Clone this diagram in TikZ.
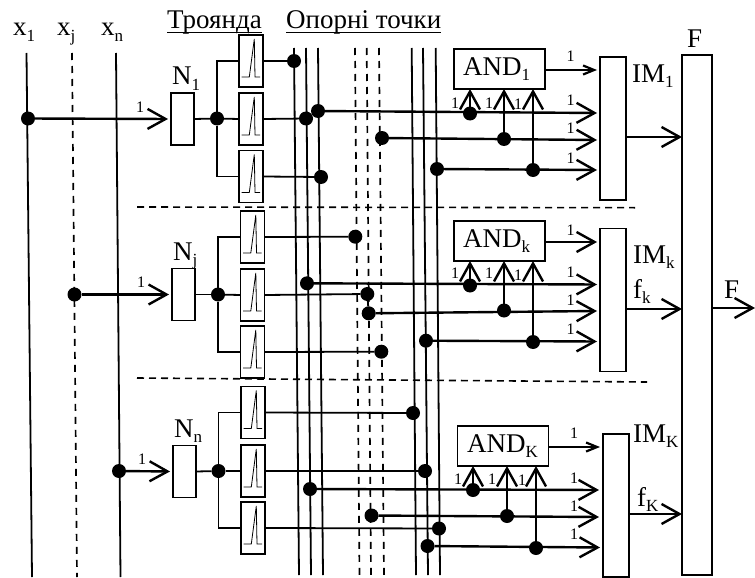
\documentclass[tikz,border=0pt]{standalone}
\usepackage{fontspec}
\setmainfont{Liberation Serif}
\usetikzlibrary{arrows.meta}
\newcommand{\sbs}[1]{\raisebox{-0.22em}{\fontsize{17}{17}\selectfont #1}}
\tikzset{
 wire/.style={line width=1.8pt,draw=black},
 thick wire/.style={line width=2.4pt,draw=black},
 dashwire/.style={line width=1.7pt,draw=black,dash pattern=on 7pt off 6pt},
 sepline/.style={line width=1.6pt,draw=black,dash pattern=on 7pt off 5pt},
 big/.style={-{Straight Barb[length=18pt,width=20pt,line width=2.4pt]}},
 small/.style={-{Straight Barb[length=11pt,width=9pt,line width=2.2pt]}},
 dot/.style={circle,fill=black,draw=none,minimum size=14pt,inner sep=0,outer sep=0},
 blk/.style={draw=black,line width=1.7pt,fill=white,inner sep=0,outer sep=0},
 nbox/.style={blk,minimum width=23pt,minimum height=52pt},
 filt/.style={blk,minimum width=24pt,minimum height=52pt,path picture={
   \draw[line width=0.8pt] ([shift={(2.7pt,10pt)}]path picture bounding box.south west)
     -- ([shift={(10.3pt,10pt)}]path picture bounding box.south west)
     -- ([shift={(15.3pt,48pt)}]path picture bounding box.south west)
     -- ([shift={(16pt,10pt)}]path picture bounding box.south west)
     -- ([shift={(21pt,10pt)}]path picture bounding box.south west);}},
 andbox/.style={blk,minimum width=91pt,minimum height=40pt},
 imbox/.style={blk,minimum width=26pt,minimum height=143pt},
 lab/.style={anchor=base west,inner sep=0,font=\fontsize{27}{27}\selectfont},
 one/.style={inner sep=0,font=\fontsize{16}{16}\selectfont},
 ul/.style={line width=1.5pt,draw=black},
}
\begin{document}
\begin{tikzpicture}[x=1pt,y=-1pt]
\useasboundingbox (0,0) rectangle (755,578);
% vertical line ends
\foreach \n/\a/\b in {x1/26.5/32,xj/72/77,xn/116/120.5}{
  \coordinate (\n t) at (\a,53); \coordinate (\n b) at (\b,577);}
\foreach \n/\a/\b in {a/294/299,b/306/311,c/318/323,g/411.7/416,h/423/428,i/435.7/440,d/355/359.5,e/366.7/371,f/379/384}{
  \coordinate (\n t) at (\a,48); \coordinate (\n b) at (\b,575);}
\draw[wire] (x1t) -- (x1b);
\draw[dashwire] (xjt) -- (xjb);
\draw[wire] (xnt) -- (xnb);
\foreach \n in {a,b,c,g,h,i}{\draw[wire] (\n t) -- (\n b);}
\foreach \n in {d,e,f}{\draw[dashwire] (\n t) -- (\n b);}
% separators
\coordinate (s1a) at (137,207); \coordinate (s1b) at (635,207.7);
\coordinate (s2a) at (137,378); \coordinate (s2b) at (647,382);
\draw[sepline] (s1a) -- (s1b);
\draw[sepline] (s2a) -- (s2b);
% F box
\node[blk,minimum width=30pt,minimum height=520pt] (F) at (697,315) {};
% ===== row 1
\node[dot] (dx1) at (28,118.5) {};
\node[dot] (br1) at (217,118.5) {};
\node[dot] (p11) at (294,61) {};
\node[dot] (p12) at (306,118.5) {};
\node[dot] (p13) at (321,177) {};
\node[dot] (q11) at (318,111) {};
\node[dot] (q12) at (382,138) {};
\node[dot] (q13) at (437,169) {};
\node[dot] (r11) at (470,113.5) {};
\node[dot] (r12) at (504,139) {};
\node[dot] (r13) at (533,170) {};
\node[nbox] (n1) at (182.5,119) {};
\node[filt] (f11) at (251,61) {};
\node[filt] (f12) at (251,119) {};
\node[filt] (f13) at (251,176.5) {};
\node[andbox] (and1) at (499.5,69) {};
\node[imbox] (im1) at (613,128.5) {};
\coordinate (i10) at (597,70);
\coordinate (i11) at (597,113);
\coordinate (i12) at (597,140);
\coordinate (i13) at (597,170);
\draw[thick wire,big,shorten >=3pt] (dx1) -- (n1.west);
\draw[wire] (n1.east) -- (br1);
\draw[wire] (br1) |- (f11.west);
\draw[wire] (br1) |- (f13.west);
\draw[wire] (br1) -- (f12.west);
\draw[wire] (f11.east) -- (p11);
\draw[wire] (f12.east) -- (p12);
\draw[wire] (f13.east) -- (p13);
\draw[thick wire,small] (and1.east |- i10) -- (i10);
\draw[thick wire,big] (q11) -- (i11);
\draw[thick wire,big] (q12) -- (i12);
\draw[thick wire,big] (q13) -- (i13);
\foreach \k in {1,2,3}{\draw[thick wire,big] (r1\k) -- (r1\k |- and1.south);}
\draw[thick wire,big] (im1.east |- 0,137) -- (F.west |- 0,137);
% ===== row 2
\node[dot] (dxj) at (74.5,294.5) {};
\node[dot] (br2) at (218,294.5) {};
\node[dot] (p21) at (355.3,236.7) {};
\node[dot] (p22) at (367.3,294) {};
\node[dot] (p23) at (381.3,351.7) {};
\node[dot] (q21) at (307,283.3) {};
\node[dot] (q22) at (368.7,313.3) {};
\node[dot] (q23) at (426,340.7) {};
\node[dot] (r21) at (470,285.5) {};
\node[dot] (r22) at (504,310.5) {};
\node[dot] (r23) at (533,342) {};
\draw[wire] (p22) -- (q22);
\node[nbox] (n2) at (183.5,294.5) {};
\node[filt] (f21) at (252.5,237) {};
\node[filt] (f22) at (252.5,295) {};
\node[filt] (f23) at (252.5,352) {};
\node[andbox] (and2) at (499.5,241) {};
\node[imbox] (im2) at (613,300) {};
\coordinate (i20) at (597,242);
\coordinate (i21) at (597,284.5);
\coordinate (i22) at (597,311);
\coordinate (i23) at (597,341.5);
\draw[thick wire,big,shorten >=3pt] (dxj) -- (n2.west);
\draw[wire] (n2.east) -- (br2);
\draw[wire] (br2) |- (f21.west);
\draw[wire] (br2) |- (f23.west);
\draw[wire] (br2) -- (f22.west);
\draw[wire] (f21.east) -- (p21);
\draw[wire] (f22.east) -- (p22);
\draw[wire] (f23.east) -- (p23);
\draw[thick wire,big] (and2.east |- i20) -- (i20);
\draw[thick wire,big] (q21) -- (i21);
\draw[thick wire,big] (q22) -- (i22);
\draw[thick wire,big] (q23) -- (i23);
\foreach \k in {1,2,3}{\draw[thick wire,big] (r2\k) -- (r2\k |- and2.south);}
\draw[thick wire,big] (im2.east |- 0,309) -- (F.west |- 0,309);
\coordinate (Fout) at (755,308);
\draw[wire,big] (F.east |- Fout) -- (Fout);
% ===== row 3
\node[dot] (dxn) at (119,471) {};
\node[dot] (br3) at (218.5,471) {};
\node[dot] (p31) at (413,413) {};
\node[dot] (p32) at (425,471) {};
\node[dot] (p33) at (439,528.5) {};
\node[dot] (q31) at (310,489) {};
\node[dot] (q32) at (371.5,515.5) {};
\node[dot] (q33) at (427.5,546) {};
\node[dot] (r31) at (473,490) {};
\node[dot] (r32) at (507,516) {};
\node[dot] (r33) at (536,548) {};
\node[nbox] (n3) at (184.5,471.5) {};
\node[filt] (f31) at (253,412.5) {};
\node[filt] (f32) at (253,471) {};
\node[filt] (f33) at (253,528) {};
\node[andbox] (and3) at (503,446) {};
\node[imbox] (im3) at (616,505.5) {};
\coordinate (i30) at (600,447);
\coordinate (i31) at (599,490);
\coordinate (i32) at (599,517);
\coordinate (i33) at (600,547.5);
\draw[thick wire,big,shorten >=3pt] (dxn) -- (n3.west);
\draw[wire] (n3.east) -- (br3);
\draw[wire] (br3) |- (f31.west);
\draw[wire] (br3) |- (f33.west);
\draw[wire] (br3) -- (f32.west);
\draw[wire] (f31.east) -- (p31);
\draw[wire] (f32.east) -- (p32);
\draw[wire] (f33.east) -- (p33);
\draw[thick wire,small] (and3.east |- i30) -- (i30);
\draw[thick wire,big] (q31) -- (i31);
\draw[thick wire,big] (q32) -- (i32);
\draw[thick wire,big] (q33) -- (i33);
\foreach \k in {1,2,3}{\draw[thick wire,big] (r3\k) -- (r3\k |- and3.south);}
\draw[thick wire,big] (im3.east |- 0,514) -- (F.west |- 0,514);
% ===== text
\node[lab] (lx1) at (13,36) {x\sbs{1}};
\node[lab] (lxj) at (57,36) {x\sbs{j}};
\node[lab] (lxn) at (101,36) {x\sbs{n}};
\node[lab] (tr) at (167,29) {Троянда};
\node[lab] (op) at (286,29) {Опорні точки};
\draw[ul] ([yshift=-3.5pt]tr.base west) -- ([yshift=-3.5pt]tr.base east);
\draw[ul] ([yshift=-3.5pt]op.base west) -- ([yshift=-3.5pt]op.base east);
\node[lab] (ln1) at (172,84.5) {N\sbs{1}};
\node[lab] (ln2) at (173,260) {N\sbs{j}};
\node[lab] (ln3) at (174,437) {N\sbs{n}};
\node[lab] (la1) at (463,75) {AND\sbs{1}};
\node[lab] (la2) at (463,247) {AND\sbs{k}};
\node[lab] (la3) at (467,452) {AND\sbs{K}};
\node[lab] (li1) at (632,82) {IM\sbs{1}};
\node[lab] (li2) at (633,263) {IM\sbs{k}};
\node[lab] (li3) at (633,442) {IM\sbs{K}};
\node[lab] (lf2) at (633,298) {f\sbs{k}};
\node[lab] (lf3) at (637,506) {f\sbs{K}};
\node[lab] (lF) at (687,48) {F};
\node[lab] (lFo) at (724,298) {F};
\foreach \i/\x/\y in {a/140/107,b/141/282,c/142/459,
  d/570.5/56,e/570.5/100,f/570.5/128,g/570.5/158,h/455/103,j/489/103,k/518/104,
  l/570.5/230,m/570.5/272,n/570.5/300,o/570.5/329,p/455/273,q/489/273,r/518/275,
  s/574/433,t/574/478,u/574/506,v/574/534,w/458/479,y/492/479,z/522/480}{
  \node[one] (one\i) at (\x,\y) {1};}
\end{tikzpicture}
\end{document}
